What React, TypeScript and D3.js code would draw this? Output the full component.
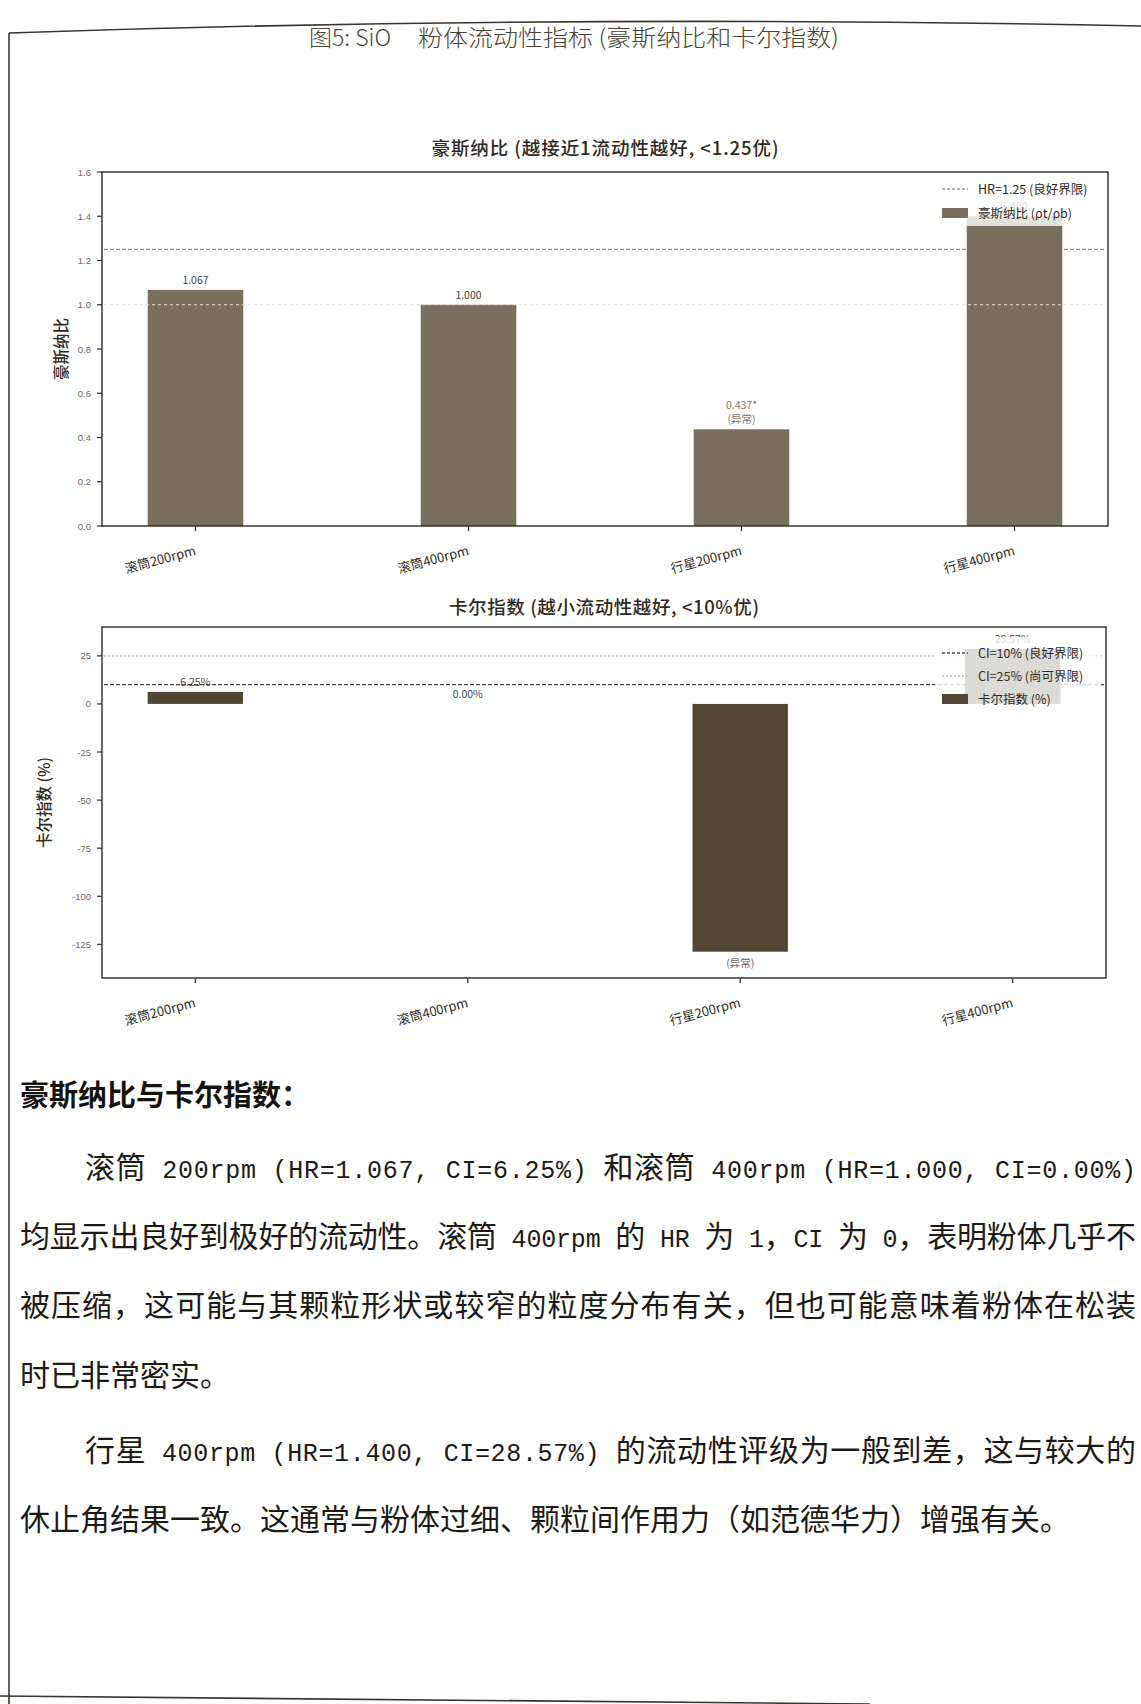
import React from 'react';
import * as d3 from 'd3';

// ---- data ----
const categories = ['滚筒200rpm', '滚筒400rpm', '行星200rpm', '行星400rpm'];
const hausnerValues = [1.067, 1.0, 0.437, 1.4];
const hausnerLabels = [['1.067'], ['1.000'], ['0.437*', '(异常)'], ['1.400']];
const carrValues = [6.25, 0.0, -128.83, 28.57];
const carrLabels = [['6.25%'], ['0.00%'], ['-128.83%', '(异常)'], ['28.57%']];
const hausnerTicks = [0, 0.2, 0.4, 0.6, 0.8, 1.0, 1.2, 1.4, 1.6];
const carrTicks = [25, 0, -25, -50, -75, -100, -125];
const hausnerLimit = 1.25;
const hausnerIdeal = 1.0;
const carrGoodLimit = 10;
const carrFairLimit = 25;
const hausnerLegend = ['HR=1.25 (良好界限)', '豪斯纳比 (ρt/ρb)'];
const carrLegend = ['CI=10% (良好界限)', 'CI=25% (尚可界限)', '卡尔指数 (%)'];

const figureTitle = ['图5: SiO', '粉体流动性指标 (豪斯纳比和卡尔指数)'];
const hausnerTitle = '豪斯纳比 (越接近1流动性越好, <1.25优)';
const carrTitle = '卡尔指数 (越小流动性越好, <10%优)';
const hausnerYLabel = '豪斯纳比';
const carrYLabel = '卡尔指数 (%)';

const sectionHeading = '豪斯纳比与卡尔指数：';
const bodyLines = [
  { text: '滚筒 200rpm (HR=1.067, CI=6.25%) 和滚筒 400rpm (HR=1.000, CI=0.00%)', indent: true, justify: true },
  { text: '均显示出良好到极好的流动性。滚筒 400rpm 的 HR 为 1，CI 为 0，表明粉体几乎不', indent: false, justify: true },
  { text: '被压缩，这可能与其颗粒形状或较窄的粒度分布有关，但也可能意味着粉体在松装', indent: false, justify: true },
  { text: '时已非常密实。', indent: false, justify: false },
  { text: '行星 400rpm (HR=1.400, CI=28.57%) 的流动性评级为一般到差，这与较大的', indent: true, justify: true },
  { text: '休止角结果一致。这通常与粉体过细、颗粒间作用力（如范德华力）增强有关。', indent: false, justify: false },
];
const bodyBaselines = [1178, 1247, 1316, 1386, 1461, 1530];

// ---- styling ----
const CJK = "'Noto Sans CJK SC', 'Noto Sans', sans-serif";
const TICKFONT = "'Liberation Sans', 'DejaVu Sans', sans-serif";
const MONO = "'Liberation Mono', 'DejaVu Sans Mono', monospace";
const INK = '#2f2a21';
const TICK_INK = '#6f695d';
const HR_BAR = '#7a6f5f';
const CI_BAR = '#524734';
const BAR_HALF = 0.175;

function Chart(props: {
  top: number;
  bottom: number;
  right: number;
  domain: [number, number];
  ticks: number[];
  tickFmt: (v: number) => string;
  values: number[];
  labels: string[][];
  barColor: string;
  title: string;
  titleY: number;
  titleLen: number;
  yLabel: string;
  yLabelX: number;
  refLines: { v: number; color: string; dash: string; width: number; over?: boolean }[];
  legend: { label: string; kind: 'line' | 'patch'; color?: string; dash?: string }[];
  legendBox: { x0: number; x1: number; y0: number; rowY: number[] };
}) {
  const left = 102;
  const x = d3.scaleLinear().domain([-0.3425, 3.3425]).range([left, props.right]);
  const y = d3.scaleLinear().domain(props.domain).range([props.bottom, props.top]);
  const y0 = y(0);
  const lb = props.legendBox;
  const lastRow = lb.rowY[lb.rowY.length - 1];
  return (
    <g>
      <text x={(left + props.right) / 2} y={props.titleY} textAnchor="middle" fontFamily={CJK}
        fontSize={18.5} fontWeight={500} fill={INK} textLength={props.titleLen} lengthAdjust="spacing">{props.title}</text>
      <text transform={`translate(${props.yLabelX},${(props.top + props.bottom) / 2}) rotate(-90)`}
        textAnchor="middle" fontFamily={CJK} fontSize={15.5} fontWeight={500} fill={INK}>{props.yLabel}</text>

      {/* reference lines under the bars */}
      {props.refLines.filter(r => !r.over).map((r, i) => (
        <line key={'r' + i} x1={left + 2} x2={props.right - 2} y1={y(r.v)} y2={y(r.v)}
          stroke={r.color} strokeWidth={r.width} strokeDasharray={r.dash} />
      ))}

      {/* value labels (drawn before the bars) */}
      {props.values.map((v, i) => {
        const cx = x(i);
        if (v >= 0) {
          const n = props.labels[i].length;
          return (
            <text key={'l' + i} textAnchor="middle" fontFamily={CJK} fontSize={10.5}
              fill={props.labels[i].length > 1 ? '#7a7468' : '#4a4438'}>
              {props.labels[i].map((s, k) => (
                <tspan key={k} x={cx} y={y(v) - 6 - (n - 1 - k) * 14}>{s}</tspan>
              ))}
            </text>
          );
        }
        return (
          <text key={'l' + i} textAnchor="middle" fontFamily={CJK} fontSize={10.5} fill="#6a6458">
            {props.labels[i].map((s, k) => (
              <tspan key={k} x={cx} y={y(v) - 1 + k * 16}>{s}</tspan>
            ))}
          </text>
        );
      })}

      {/* bars */}
      {props.values.map((v, i) => {
        const xa = x(i - BAR_HALF);
        const xb = x(i + BAR_HALF);
        const ya = Math.min(y(v), y0);
        const h = Math.abs(y(v) - y0);
        return <rect key={'b' + i} x={xa} y={ya} width={xb - xa} height={h} fill={props.barColor} />;
      })}

      {/* reference lines over the bars */}
      {props.refLines.filter(r => r.over).map((r, i) => (
        <line key={'o' + i} x1={left + 2} x2={props.right - 2} y1={y(r.v)} y2={y(r.v)}
          stroke={r.color} strokeWidth={r.width} strokeDasharray={r.dash} />
      ))}

      {/* legend */}
      <rect x={lb.x0} y={lb.y0} width={lb.x1 - lb.x0} height={lastRow + 13 - lb.y0} fill="#ffffff" opacity={0.8} />
      {props.legend.map((e, i) => {
        const ry = lb.rowY[i];
        return (
          <g key={'lg' + i}>
            {e.kind === 'line' ? (
              <line x1={lb.x0 + 7} x2={lb.x0 + 33} y1={ry} y2={ry} stroke={e.color} strokeWidth={1.3} strokeDasharray={e.dash} />
            ) : (
              <rect x={lb.x0 + 7} y={ry - 5} width={26} height={10} fill={e.color} />
            )}
            <text x={lb.x0 + 43} y={ry + 4.5} fontFamily={CJK} fontSize={12.5} fill={INK}>{e.label}</text>
          </g>
        );
      })}

      {/* frame */}
      <rect x={left} y={props.top} width={props.right - left} height={props.bottom - props.top}
        fill="none" stroke={INK} strokeWidth={1.4} />

      {/* y axis */}
      {props.ticks.map(t => (
        <g key={'yt' + t}>
          <line x1={left - 5} x2={left} y1={y(t)} y2={y(t)} stroke={INK} strokeWidth={1.2} />
          <text x={left - 11} y={y(t) + 3.5} textAnchor="end" fontFamily={TICKFONT} fontSize={9.5} fill={TICK_INK}>
            {props.tickFmt(t)}
          </text>
        </g>
      ))}

      {/* x axis */}
      {categories.map((c, i) => (
        <g key={'xt' + i}>
          <line x1={x(i)} x2={x(i)} y1={props.bottom} y2={props.bottom + 5} stroke={INK} strokeWidth={1.2} />
          <text transform={`translate(${x(i) - 2},${props.bottom + 17}) rotate(-15)`} textAnchor="end"
            dominantBaseline="hanging" fontFamily={CJK} fontSize={13} fill={INK}>{c}</text>
        </g>
      ))}
    </g>
  );
}

// Latin runs of the body text are set in a half-width monospaced face
function BodyLine({ text, x, y, len }: { text: string; x: number; y: number; len?: number }) {
  const runs = text.match(/[\x00-\x7F]+|[^\x00-\x7F]+/g) || [];
  return (
    <text x={x} y={y} fontFamily={CJK} fontSize={30} fill="#1d1a15" xmlSpace="preserve"
      style={{ whiteSpace: 'pre' }} textLength={len} lengthAdjust={len ? 'spacing' : undefined}>
      {runs.map((r, i) =>
        /^[\x00-\x7F]+$/.test(r) ? (
          <tspan key={i} fontFamily={MONO} fontSize={25}>{r}</tspan>
        ) : (
          <tspan key={i}>{r}</tspan>
        )
      )}
    </text>
  );
}

export default function App() {
  const W = 1141;
  const H = 1704;
  const hrFmt = d3.format('.1f');
  return (
    <div style={{ position: 'absolute', left: 0, top: 0 }}>
      <svg width={W} height={H} viewBox={`0 0 ${W} ${H}`} style={{ display: 'block', background: '#ffffff' }}>
        {/* page edges */}
        <path d="M9,33 Q560,14 1141,26" fill="none" stroke="#3a352c" strokeWidth={1.6} />
        <line x1={9} x2={9} y1={33} y2={1704} stroke="#3a352c" strokeWidth={1.6} />
        <path d="M0,1696 Q430,1700 870,1704" fill="none" stroke="#3a352c" strokeWidth={1.6} />

        <text x={309} y={46} fontFamily={CJK} fontSize={23} fill="#4a4437" fontWeight={300}>{figureTitle[0]}</text>
        <text x={418} y={46} fontFamily={CJK} fontSize={23} fill="#4a4437" fontWeight={300}
          textLength={421} lengthAdjust="spacingAndGlyphs">{figureTitle[1]}</text>

        <Chart
          top={172}
          bottom={526}
          right={1108}
          domain={[0, 1.6]}
          ticks={hausnerTicks}
          tickFmt={v => hrFmt(v)}
          values={hausnerValues}
          labels={hausnerLabels}
          barColor={HR_BAR}
          title={hausnerTitle}
          titleY={155}
          titleLen={347}
          yLabel={hausnerYLabel}
          yLabelX={67}
          refLines={[
            { v: hausnerLimit, color: '#8e887b', dash: '4 2', width: 1.3 },
            { v: hausnerIdeal, color: '#e2ded6', dash: '3 3', width: 1.2, over: true },
          ]}
          legend={[
            { label: hausnerLegend[0], kind: 'line', color: '#9a9588', dash: '3 2' },
            { label: hausnerLegend[1], kind: 'patch', color: HR_BAR },
          ]}
          legendBox={{ x0: 935, x1: 1103, y0: 176, rowY: [189, 213] }}
        />

        <Chart
          top={627}
          bottom={978}
          right={1106}
          domain={[-142.5, 40]}
          ticks={carrTicks}
          tickFmt={v => String(v)}
          values={carrValues}
          labels={carrLabels}
          barColor={CI_BAR}
          title={carrTitle}
          titleY={614}
          titleLen={310}
          yLabel={carrYLabel}
          yLabelX={50}
          refLines={[
            { v: carrGoodLimit, color: '#4c463b', dash: '4 2', width: 1.3 },
            { v: carrFairLimit, color: '#b9b5ac', dash: '2 2', width: 1.2 },
          ]}
          legend={[
            { label: carrLegend[0], kind: 'line', color: '#4c463b', dash: '3 2' },
            { label: carrLegend[1], kind: 'line', color: '#b9b5ac', dash: '2 2' },
            { label: carrLegend[2], kind: 'patch', color: CI_BAR },
          ]}
          legendBox={{ x0: 935, x1: 1101, y0: 637, rowY: [653, 676, 699] }}
        />

        <text x={20} y={1106} fontFamily={CJK} fontSize={29} fontWeight={700} fill="#15130f">{sectionHeading}</text>

        {bodyLines.map((l, i) => {
          const x0 = l.indent ? 85 : 20;
          return (
            <BodyLine key={i} text={l.text} x={x0} y={bodyBaselines[i]} len={l.justify ? 1136 - x0 : undefined} />
          );
        })}
      </svg>
    </div>
  );
}
